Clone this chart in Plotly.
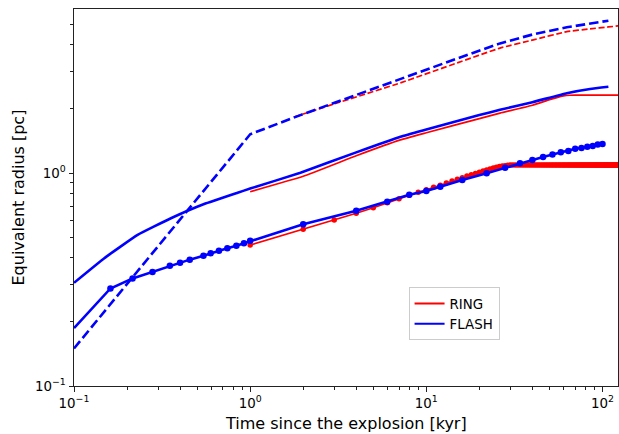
import plotly.graph_objects as go

# ---- data (t in kyr, radius in pc) ----
flash_solid_t = [0.1, 0.1486, 0.2297, 0.355, 0.548, 0.849, 1.0, 1.93, 4, 7.13, 10, 20, 26.2, 40, 62.7, 85, 108]
flash_solid_r = [0.305, 0.398, 0.512, 0.613, 0.715, 0.808, 0.845, 1.003, 1.25, 1.48, 1.60, 1.87, 1.98, 2.15, 2.37, 2.48, 2.54]

ring_solid_t = [1.0, 2, 4, 7.13, 10, 20, 26.2, 40, 50, 55, 60, 65, 70, 125]
ring_solid_r = [0.817, 0.965, 1.205, 1.43, 1.545, 1.80, 1.91, 2.08, 2.21, 2.26, 2.30, 2.318, 2.322, 2.322]

flash_dash_t = [0.1, 1.0, 1.93, 4, 7.13, 15, 26.2, 40.5, 62.7, 85, 108]
flash_dash_r = [0.150, 1.52, 1.87, 2.33, 2.78, 3.45, 4.06, 4.48, 4.83, 5.03, 5.19]

ring_dash_t = [1.77, 3, 7.13, 15, 26.2, 40.5, 62.7, 85, 108, 125]
ring_dash_r = [1.83, 2.11, 2.65, 3.29, 3.86, 4.22, 4.61, 4.75, 4.85, 4.91]

flash_dot_t = [0.1, 0.161, 0.215, 0.279, 0.350, 0.400, 0.454, 0.543, 0.597, 0.665, 0.742, 0.835, 0.922, 1.0,
               2, 4, 6, 8, 10, 12, 16, 22, 28, 34, 40, 46, 52, 58, 64, 70, 76, 82, 88, 94, 100]
flash_dot_r = [0.187, 0.287, 0.320, 0.343, 0.367, 0.379, 0.392, 0.409, 0.420, 0.431, 0.443, 0.456, 0.468, 0.481,
               0.574, 0.665, 0.733, 0.791, 0.823, 0.862, 0.927, 0.997, 1.059, 1.11, 1.15, 1.19, 1.22, 1.25, 1.27,
               1.30, 1.31, 1.33, 1.34, 1.36, 1.37]
flash_dot_marker = [0] + [6.5] * (len(flash_dot_t) - 1)

ring_dot_t = list(range(1, 126))
ring_dot_r = [0.459, 0.544, 0.601, 0.647, 0.687, 0.725, 0.757, 0.786, 0.812, 0.835,
              0.857, 0.877, 0.897, 0.916, 0.934, 0.951, 0.967, 0.982, 0.996, 1.009,
              1.022, 1.034, 1.045, 1.055, 1.064, 1.072, 1.078, 1.083, 1.087, 1.089,
              1.090, 1.091, 1.091, 1.091, 1.091, 1.091, 1.091, 1.091, 1.091, 1.091,
              1.091, 1.091, 1.091, 1.091, 1.091, 1.091, 1.091, 1.091, 1.091, 1.091,
              1.091, 1.091, 1.091, 1.091, 1.091, 1.091, 1.091, 1.091, 1.091, 1.091,
              1.091, 1.091, 1.091, 1.091, 1.091, 1.091, 1.091, 1.091, 1.091, 1.091,
              1.091, 1.091, 1.091, 1.091, 1.091, 1.091, 1.091, 1.091, 1.091, 1.091,
              1.091, 1.091, 1.091, 1.091, 1.091, 1.091, 1.091, 1.091, 1.091, 1.091,
              1.091, 1.091, 1.091, 1.091, 1.091, 1.091, 1.091, 1.091, 1.091, 1.091,
              1.091, 1.091, 1.091, 1.091, 1.091, 1.091, 1.091, 1.091, 1.091, 1.091,
              1.091, 1.091, 1.091, 1.091, 1.091, 1.091, 1.091, 1.091, 1.091, 1.091,
              1.091, 1.091, 1.091, 1.091, 1.091]

legend_names = ["RING", "FLASH"]

x_ticks = [0.1, 1, 10, 100]
x_ticktext = ["10<sup>−1</sup>", "10<sup>0</sup>", "10<sup>1</sup>", "10<sup>2</sup>"]
y_ticks = [0.1, 1]
y_ticktext = ["10<sup>−1</sup>", "10<sup>0</sup>"]
x_minor = [0.2, 0.3, 0.4, 0.5, 0.6, 0.7, 0.8, 0.9, 2, 3, 4, 5, 6, 7, 8, 9, 20, 30, 40, 50, 60, 70, 80, 90]
y_minor = [0.2, 0.3, 0.4, 0.5, 0.6, 0.7, 0.8, 0.9, 2, 3, 4, 5]

RED = "#ff0000"
BLUE = "#0000ff"
FONT = "DejaVu Sans"

fig = go.Figure()

# RING (red) first
fig.add_trace(go.Scatter(x=ring_solid_t, y=ring_solid_r, mode="lines", name="RING solid",
                         line=dict(color=RED, width=1.7, shape="spline", smoothing=0.35), showlegend=False))
fig.add_trace(go.Scatter(x=ring_dash_t, y=ring_dash_r, mode="lines", name="RING dashed",
                         line=dict(color=RED, width=1.7, dash="6px,2.6px", shape="spline", smoothing=0.35),
                         showlegend=False))
fig.add_trace(go.Scatter(x=ring_dot_t, y=ring_dot_r, mode="lines+markers", name="RING dots",
                         line=dict(color=RED, width=1.7),
                         marker=dict(color=RED, size=5.5, opacity=1, line=dict(width=0)),
                         showlegend=False))

# FLASH (blue)
fig.add_trace(go.Scatter(x=flash_solid_t, y=flash_solid_r, mode="lines", name="FLASH solid",
                         line=dict(color=BLUE, width=2.6, shape="spline", smoothing=0.35), showlegend=False))
fig.add_trace(go.Scatter(x=flash_dash_t, y=flash_dash_r, mode="lines", name="FLASH dashed",
                         line=dict(color=BLUE, width=2.6, dash="9.5px,4px"), showlegend=False))
fig.add_trace(go.Scatter(x=flash_dot_t, y=flash_dot_r, mode="lines+markers", name="FLASH dots",
                         line=dict(color=BLUE, width=2.6),
                         marker=dict(color=BLUE, size=flash_dot_marker, opacity=1, line=dict(width=0)),
                         showlegend=False))

# legend-only handles
for name, col in zip(legend_names, [RED, BLUE]):
    fig.add_trace(go.Scatter(x=[None], y=[None], mode="lines", name=name,
                             line=dict(color=col, width=2), showlegend=True))

axis_common = dict(type="log", showgrid=False, zeroline=False, showline=True, mirror=True,
                   linecolor="#222222", linewidth=1, ticks="outside", ticklen=4.5, tickwidth=1,
                   tickcolor="#222222", automargin=False,
                   tickfont=dict(family=FONT, size=13.4, color="black"))

fig.update_xaxes(range=[-1, 2.088], tickmode="array", tickvals=x_ticks, ticktext=x_ticktext,
                 minor=dict(tickmode="array", tickvals=x_minor, ticks="outside", ticklen=2.6,
                            tickwidth=0.8, tickcolor="#222222"),
                 **axis_common)
fig.update_yaxes(range=[-1, 0.770], tickmode="array", tickvals=y_ticks, ticktext=y_ticktext,
                 minor=dict(tickmode="array", tickvals=y_minor, ticks="outside", ticklen=2.6,
                            tickwidth=0.8, tickcolor="#222222"),
                 **axis_common)

fig.update_layout(
    width=619, height=434,
    margin=dict(l=74, r=1, t=9, b=48, autoexpand=False),
    paper_bgcolor="white", plot_bgcolor="white",
    font=dict(family=FONT, size=13.4, color="black"),
    legend=dict(x=0.615, y=0.262, xanchor="left", yanchor="top",
                bgcolor="rgba(255,255,255,0.8)", bordercolor="#cccccc", borderwidth=1,
                font=dict(family=FONT, size=13.4), tracegroupgap=2, itemwidth=30),
    annotations=[
        dict(text="Time since the explosion [kyr]", xref="paper", yref="paper", x=0.5, y=0,
             yshift=-37, xanchor="center", yanchor="middle", showarrow=False,
             font=dict(family=FONT, size=16, color="black")),
        dict(text="Equivalent radius [pc]", xref="paper", yref="paper", x=0, y=0.5,
             xshift=-56, xanchor="center", yanchor="middle", textangle=-90, showarrow=False,
             font=dict(family=FONT, size=16, color="black")),
    ],
)

fig.write_html("out.html", config={"displayModeBar": False},
               post_script="document.body.style.margin='0';")
